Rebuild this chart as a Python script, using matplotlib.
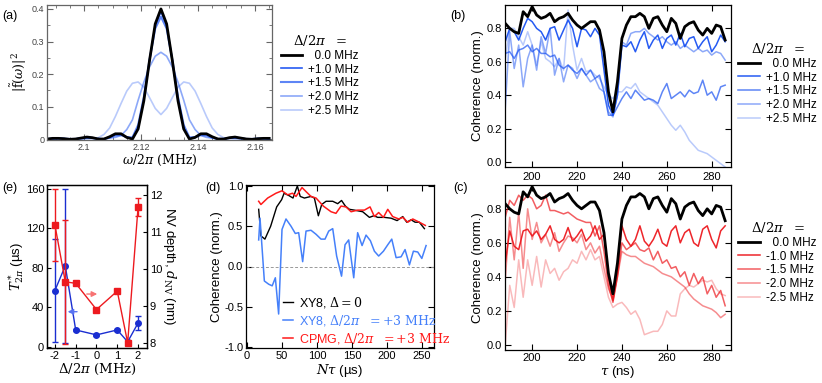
import matplotlib.pyplot as plt
from matplotlib.ticker import MultipleLocator

plt.rcParams['font.family'] = ['Liberation Sans', 'DejaVu Sans']
plt.rcParams['mathtext.fontset'] = 'dejavuserif'
plt.rcParams['axes.unicode_minus'] = False
plt.rcParams['axes.linewidth'] = 0.9
plt.rcParams['xtick.direction'] = 'in'
plt.rcParams['ytick.direction'] = 'in'

# ---------------- data ----------------
# (a) filter functions
w_grid = [2.087, 2.089, 2.091, 2.093, 2.095, 2.097, 2.099, 2.101, 2.103, 2.105,
          2.107, 2.109, 2.111, 2.113, 2.115, 2.117, 2.119, 2.121, 2.123, 2.125,
          2.127, 2.129, 2.131, 2.133, 2.135, 2.137, 2.139, 2.141, 2.143, 2.145,
          2.147, 2.149, 2.151, 2.153, 2.155, 2.157, 2.159, 2.161, 2.163, 2.165]
f_0p0 = [0.001, 0.003, 0.003, 0.002, 0.000, 0.001, 0.004, 0.007, 0.005, 0.001,
         0.001, 0.008, 0.017, 0.017, 0.006, 0.001, 0.032, 0.118, 0.242, 0.354,
         0.400, 0.354, 0.242, 0.118, 0.032, 0.001, 0.006, 0.017, 0.017, 0.008,
         0.001, 0.001, 0.005, 0.007, 0.004, 0.001, 0.000, 0.002, 0.003, 0.003]
f_1p0 = [0.001, 0.003, 0.003, 0.002, 0.000, 0.001, 0.004, 0.006, 0.005, 0.001,
         0.001, 0.007, 0.015, 0.016, 0.006, 0.002, 0.035, 0.122, 0.242, 0.350,
         0.392, 0.350, 0.242, 0.122, 0.035, 0.002, 0.006, 0.016, 0.015, 0.007,
         0.001, 0.001, 0.005, 0.006, 0.004, 0.001, 0.000, 0.002, 0.003, 0.003]
f_1p5 = [0.001, 0.002, 0.003, 0.002, 0.001, 0.001, 0.003, 0.005, 0.004, 0.001,
         0.001, 0.005, 0.012, 0.013, 0.007, 0.006, 0.044, 0.130, 0.244, 0.340,
         0.376, 0.340, 0.244, 0.130, 0.044, 0.006, 0.007, 0.013, 0.012, 0.005,
         0.001, 0.001, 0.004, 0.005, 0.003, 0.001, 0.001, 0.002, 0.002, 0.002]
f_2p0 = [0.001, 0.001, 0.002, 0.002, 0.001, 0.001, 0.002, 0.003, 0.003, 0.002,
         0.002, 0.004, 0.006, 0.012, 0.030, 0.060, 0.120, 0.175, 0.222, 0.255,
         0.267, 0.255, 0.222, 0.175, 0.120, 0.060, 0.030, 0.012, 0.006, 0.004,
         0.002, 0.002, 0.003, 0.003, 0.002, 0.001, 0.001, 0.002, 0.002, 0.001]
f_2p5 = [0.001, 0.001, 0.002, 0.002, 0.002, 0.002, 0.002, 0.002, 0.003, 0.005,
         0.015, 0.035, 0.070, 0.110, 0.148, 0.172, 0.176, 0.160, 0.128, 0.095,
         0.076, 0.095, 0.128, 0.160, 0.176, 0.172, 0.148, 0.110, 0.070, 0.035,
         0.015, 0.005, 0.003, 0.002, 0.002, 0.002, 0.002, 0.002, 0.001, 0.001]

# (b), (c) coherence vs tau
tau = [188, 190, 192, 194, 196, 198, 200, 202, 204, 206,
       208, 210, 212, 214, 216, 218, 220, 222, 224, 226,
       228, 230, 232, 234, 236, 238, 240, 242, 244, 246,
       248, 250, 252, 254, 256, 258, 260, 262, 264, 266,
       268, 270, 272, 274, 276, 278, 280, 282, 284, 286]
c_0p0 = [0.83, 0.80, 0.78, 0.77, 0.90, 0.87, 0.93, 0.88, 0.86, 0.87,
         0.89, 0.84, 0.86, 0.87, 0.89, 0.85, 0.82, 0.80, 0.82, 0.84,
         0.84, 0.79, 0.66, 0.42, 0.30, 0.48, 0.74, 0.82, 0.87, 0.87,
         0.89, 0.87, 0.80, 0.86, 0.87, 0.82, 0.78, 0.86, 0.83, 0.74,
         0.81, 0.83, 0.84, 0.79, 0.76, 0.80, 0.77, 0.82, 0.81, 0.73]
c_p1p0 = [0.72, 0.80, 0.78, 0.73, 0.80, 0.86, 0.84, 0.80, 0.78, 0.73,
          0.80, 0.81, 0.73, 0.79, 0.85, 0.80, 0.69, 0.80, 0.79, 0.75,
          0.80, 0.76, 0.55, 0.34, 0.28, 0.40, 0.70, 0.69, 0.72, 0.66,
          0.73, 0.78, 0.68, 0.73, 0.76, 0.68, 0.74, 0.76, 0.70, 0.77,
          0.69, 0.74, 0.75, 0.68, 0.72, 0.75, 0.66, 0.70, 0.76, 0.72]
c_p1p5 = [0.65, 0.66, 0.62, 0.67, 0.68, 0.70, 0.66, 0.68, 0.65, 0.65,
          0.63, 0.64, 0.58, 0.56, 0.58, 0.55, 0.53, 0.56, 0.52, 0.55,
          0.50, 0.52, 0.42, 0.28, 0.28, 0.33, 0.38, 0.42, 0.38, 0.43,
          0.40, 0.37, 0.38, 0.37, 0.35, 0.42, 0.47, 0.38, 0.40, 0.42,
          0.39, 0.43, 0.41, 0.42, 0.49, 0.40, 0.42, 0.37, 0.45, 0.46]
c_p2p0 = [0.32, 0.78, 0.56, 0.70, 0.45, 0.62, 0.70, 0.55, 0.75, 0.65,
          0.80, 0.52, 0.62, 0.48, 0.58, 0.56, 0.50, 0.56, 0.52, 0.48,
          0.50, 0.44, 0.42, 0.30, 0.27, 0.40, 0.72, 0.70, 0.77, 0.78,
          0.78, 0.80, 0.77, 0.75, 0.73, 0.75, 0.72, 0.70, 0.72, 0.68,
          0.70, 0.68, 0.66, 0.68, 0.66, 0.67, 0.64, 0.66, 0.65, 0.61]
c_p2p5 = [0.62, 0.80, 0.80, 0.75, 0.70, 0.78, 0.70, 0.58, 0.72, 0.62,
          0.60, 0.57, 0.62, 0.55, 0.91, 0.70, 0.55, 0.62, 0.54, 0.55,
          0.52, 0.50, 0.45, 0.40, 0.38, 0.42, 0.42, 0.45, 0.44, 0.47,
          0.42, 0.40, 0.38, 0.36, 0.34, 0.30, 0.26, 0.22, 0.19, 0.22,
          0.18, 0.13, 0.10, 0.07, 0.06, 0.05, 0.03, 0.01, -0.01, -0.03]
c_m1p0 = [0.48, 0.67, 0.58, 0.56, 0.67, 0.68, 0.64, 0.67, 0.62, 0.65,
          0.70, 0.62, 0.60, 0.62, 0.69, 0.61, 0.64, 0.68, 0.61, 0.64,
          0.70, 0.62, 0.65, 0.40, 0.26, 0.42, 0.70, 0.62, 0.58, 0.62,
          0.70, 0.61, 0.58, 0.62, 0.68, 0.60, 0.58, 0.67, 0.70, 0.60,
          0.66, 0.68, 0.60, 0.58, 0.68, 0.70, 0.62, 0.57, 0.67, 0.70]
c_m1p5 = [0.75, 0.85, 0.82, 0.88, 0.85, 0.88, 0.86, 0.80, 0.82, 0.88,
          0.79, 0.79, 0.78, 0.77, 0.78, 0.76, 0.74, 0.73, 0.72, 0.72,
          0.64, 0.70, 0.55, 0.35, 0.25, 0.40, 0.60, 0.56, 0.58, 0.60,
          0.56, 0.55, 0.57, 0.50, 0.55, 0.48, 0.50, 0.45, 0.46, 0.40,
          0.43, 0.35, 0.42, 0.36, 0.40, 0.30, 0.35, 0.28, 0.32, 0.23]
c_m2p0 = [0.38, 0.75, 0.50, 0.78, 0.45, 0.80, 0.62, 0.72, 0.60, 0.65,
          0.58, 0.66, 0.55, 0.60, 0.64, 0.63, 0.60, 0.65, 0.56, 0.60,
          0.54, 0.58, 0.45, 0.33, 0.27, 0.40, 0.55, 0.53, 0.52, 0.52,
          0.50, 0.48, 0.47, 0.46, 0.44, 0.42, 0.41, 0.40, 0.38, 0.36,
          0.34, 0.30, 0.27, 0.25, 0.23, 0.22, 0.21, 0.19, 0.16, 0.18]
c_m2p5 = [0.00, 0.35, 0.22, 0.50, 0.28, 0.50, 0.35, 0.52, 0.34, 0.50,
          0.42, 0.45, 0.38, 0.43, 0.45, 0.50, 0.48, 0.55, 0.50, 0.56,
          0.50, 0.52, 0.40, 0.28, 0.22, 0.24, 0.25, 0.22, 0.18, 0.20,
          0.15, 0.06, 0.07, 0.08, 0.08, 0.12, 0.20, 0.17, 0.17, 0.30,
          0.33, 0.35, 0.34, 0.36, 0.38, 0.37, 0.38, 0.33, 0.30, 0.29]

# (d) coherence vs N*tau
nt_xy8 = [16.7, 19.9, 25.6, 33.8, 42.4, 49.5, 53.0, 60.0, 65.7, 71.9,
          76.0, 82.0, 91.4, 96.2, 101.9, 106.7, 112.9, 122.4, 129.5, 135.0,
          140.5, 146.2, 153.3, 165.2, 174.8, 181.0, 186.7, 196.2, 205.7, 214.3,
          222.4, 228.1, 234.3, 240.0, 246.0, 253.3]
coh_xy8 = [0.71, 0.38, 0.34, 0.50, 0.74, 0.83, 0.91, 0.88, 0.85, 1.00,
           0.87, 0.85, 0.87, 0.85, 0.63, 0.77, 0.81, 0.81, 0.78, 0.82,
           0.75, 0.71, 0.70, 0.68, 0.61, 0.63, 0.61, 0.61, 0.60, 0.57,
           0.62, 0.55, 0.58, 0.55, 0.55, 0.47]
nt_xy8_det = [16.7, 18.6, 24.8, 31.0, 36.0, 40.5, 45.2, 50.0, 55.7, 62.9,
              69.0, 73.8, 79.5, 84.3, 91.4, 98.6, 105.7, 111.4, 116.7, 122.4,
              128.0, 135.0, 140.0, 145.2, 152.4, 158.0, 164.3, 170.0, 176.2, 181.9,
              188.0, 194.8, 201.0, 206.7, 212.9, 220.0, 225.7, 231.9, 237.6, 243.8,
              249.6, 255.7]
coh_xy8_det = [0.33, 0.60, -0.18, -0.22, -0.24, -0.14, -0.59, 0.46, 0.59, 0.50,
               0.41, 0.42, 0.06, 0.44, 0.45, 0.40, 0.34, 0.34, 0.44, 0.47,
               0.13, -0.12, 0.27, 0.33, -0.14, 0.42, 0.26, 0.39, 0.32, 0.19,
               0.13, 0.19, 0.27, 0.34, 0.11, 0.12, 0.21, 0.02, 0.19, 0.18,
               0.10, 0.26]
nt_cpmg = [16.7, 19.9, 29.5, 41.4, 50.0, 58.0, 65.0, 70.0, 78.6, 84.3,
           91.4, 98.6, 109.0, 120.0, 127.0, 134.3, 141.4, 148.6, 158.0, 167.6,
           175.7, 181.9, 188.0, 194.8, 201.0, 208.0, 216.7, 222.4, 229.5, 236.7,
           246.0, 254.6]
coh_cpmg = [0.81, 0.77, 0.85, 0.91, 0.94, 0.89, 0.91, 0.87, 0.98, 0.93,
            0.87, 0.85, 0.75, 0.68, 0.66, 0.75, 0.74, 0.68, 0.70, 0.70,
            0.74, 0.62, 0.67, 0.61, 0.71, 0.62, 0.59, 0.61, 0.55, 0.59,
            0.55, 0.51]

# (e) T2* and NV depth vs detuning
det = [-2, -1.5, -1, 0, 1, 1.5, 2]
t2 = [57, 82, 17, 12, 17, 5, 24]
t2_err = [52, 78, 1, 1, 1, 1, 7]
depth = [11.19, 9.65, 9.61, 8.90, 9.40, 8.00, 11.67]
depth_err = [0.98, 1.67, 0.05, 0.03, 0.03, 0.03, 0.25]

# ---------------- figure ----------------
W, H = 822, 383
fig = plt.figure(figsize=(W / 100, H / 100), dpi=100)


def box(l, t, r, b):
    return fig.add_axes([l / W, 1 - b / H, (r - l) / W, (b - t) / H])


SERIF = 'DejaVu Serif'
BLUE = (0.10, 0.32, 0.95)
RED = (0.93, 0.10, 0.12)
dlab = r'$\Delta/2\pi\ \ =$'

# ---- (a)
ax = box(47, 5, 272, 140)
ax.plot(w_grid, f_2p5, color=BLUE, alpha=0.3, lw=1.2, label='+2.5 MHz')
ax.plot(w_grid, f_2p0, color=BLUE, alpha=0.5, lw=1.2, label='+2.0 MHz')
ax.plot(w_grid, f_1p5, color=BLUE, alpha=0.7, lw=1.5, label='+1.5 MHz')
ax.plot(w_grid, f_1p0, color=BLUE, alpha=0.95, lw=1.2, label='+1.0 MHz')
ax.plot(w_grid, f_0p0, color='black', lw=2.0, label='  0.0 MHz')
ax.set_xlim(2.087, 2.166)
ax.set_ylim(-0.002, 0.412)
ax.set_xticks([2.10, 2.12, 2.14, 2.16])
ax.set_xticklabels(['2.1', '2.12', '2.14', '2.16'])
ax.set_yticks([0, 0.1, 0.2, 0.3, 0.4])
ax.set_yticklabels(['0', '0.1', '0.2', '0.3', '0.4'])
ax.xaxis.set_minor_locator(MultipleLocator(0.005))
ax.yaxis.set_minor_locator(MultipleLocator(0.05))
ax.tick_params(which='both', top=True, right=True, color='#666', labelcolor='#444',
               labelsize=6.5, pad=2)
ax.tick_params(which='major', length=4)
ax.tick_params(which='minor', length=2)
for s in ax.spines.values():
    s.set_color('#666')
ax.set_xlabel(r'$\omega/2\pi$ (MHz)', family=SERIF, fontsize=9, labelpad=1)
ax.set_ylabel(r'$|\tilde{\mathrm{f}}(\omega)|^2$', fontsize=9, labelpad=2)
h, l = ax.get_legend_handles_labels()
leg = ax.legend(h[::-1], l[::-1], title=dlab, loc='upper left',
                bbox_to_anchor=(281 / W, 1 - 33 / H), bbox_transform=fig.transFigure,
                frameon=False, fontsize=8.5, title_fontsize=9.5, handlelength=1.8,
                handletextpad=0.5, labelspacing=0.15, borderpad=0, borderaxespad=0)


def coherence_axes(axc):
    axc.set_xlim(187.9, 288.6)
    axc.set_ylim(-0.03, 0.94)
    axc.set_xticks([200, 220, 240, 260, 280])
    axc.set_yticks([0.0, 0.2, 0.4, 0.6, 0.8])
    axc.set_yticklabels(['0.0', '0.2', '0.4', '0.6', '0.8'])
    axc.tick_params(top=True, right=True, length=4, labelsize=8, pad=2)
    axc.set_ylabel('Coherence (norm.)', fontsize=9.5, labelpad=2)


# ---- (b)
ax = box(505, 5, 731, 167)
ax.plot(tau, c_p2p5, color=BLUE, alpha=0.3, lw=1.1, label='+2.5 MHz')
ax.plot(tau, c_p2p0, color=BLUE, alpha=0.5, lw=1.1, label='+2.0 MHz')
ax.plot(tau, c_p1p5, color=BLUE, alpha=0.7, lw=1.1, label='+1.5 MHz')
ax.plot(tau, c_p1p0, color=BLUE, alpha=0.95, lw=1.1, label='+1.0 MHz')
ax.plot(tau, c_0p0, color='black', lw=2.0, label='  0.0 MHz')
coherence_axes(ax)
ax.tick_params(labelbottom=False)
h, l = ax.get_legend_handles_labels()
ax.legend(h[::-1], l[::-1], title=dlab, loc='upper left',
          bbox_to_anchor=(738 / W, 1 - 41 / H), bbox_transform=fig.transFigure,
          frameon=False, fontsize=8.5, title_fontsize=9.5, handlelength=1.9,
          handletextpad=0.5, labelspacing=0.15, borderpad=0, borderaxespad=0)

# ---- (c)
ax = box(505, 185, 731, 350)
ax.plot(tau, c_m2p5, color=RED, alpha=0.3, lw=1.1, label='-2.5 MHz')
ax.plot(tau, c_m2p0, color=RED, alpha=0.5, lw=1.1, label='-2.0 MHz')
ax.plot(tau, c_m1p5, color=RED, alpha=0.7, lw=1.1, label='-1.5 MHz')
ax.plot(tau, c_m1p0, color=RED, alpha=0.95, lw=1.1, label='-1.0 MHz')
ax.plot(tau, c_0p0, color='black', lw=2.0, label='  0.0 MHz')
coherence_axes(ax)
ax.tick_params(labeltop=True)
ax.set_xlabel(r'$\tau$ (ns)', fontsize=9.5, labelpad=1)
h, l = ax.get_legend_handles_labels()
ax.legend(h[::-1], l[::-1], title=dlab, loc='upper left',
          bbox_to_anchor=(738 / W, 1 - 220 / H), bbox_transform=fig.transFigure,
          frameon=False, fontsize=8.5, title_fontsize=9.5, handlelength=1.9,
          handletextpad=0.5, labelspacing=0.15, borderpad=0, borderaxespad=0)

# ---- (d)
ax = box(246, 185, 434, 348)
ax.axhline(0, color='#999999', lw=0.7, ls=(0, (3, 2)))
ax.plot(nt_xy8, coh_xy8, color='black', lw=1.0, label=r'XY8, $\Delta = 0$')
ax.plot(nt_xy8_det, coh_xy8_det, color=(0.27, 0.50, 0.98), lw=1.1,
        label=r'XY8, $\Delta/2\pi\ \ = +3\ \mathrm{MHz}$')
ax.plot(nt_cpmg, coh_cpmg, color=(1.0, 0.1, 0.1), lw=1.1,
        label=r'CPMG, $\Delta/2\pi\ \ = +3\ \mathrm{MHz}$')
ax.set_xlim(-1.4, 267)
ax.set_ylim(-1.012, 1.012)
ax.set_xticks([0, 50, 100, 150, 200, 250])
ax.set_yticks([-1.0, -0.5, 0.0, 0.5, 1.0])
ax.set_yticklabels(['-1.0', '-0.5', '0.0', '0.5', '1.0'])
ax.tick_params(top=True, right=True, length=4, labelsize=8, pad=2)
ax.set_xlabel(r'$N\tau$ (µs)', fontsize=9.5, labelpad=1)
ax.set_ylabel('Coherence (norm.)', fontsize=9.5, labelpad=1)
leg = ax.legend(loc='upper left', bbox_to_anchor=(283 / W, 1 - 295 / H),
                bbox_transform=fig.transFigure, frameon=False, fontsize=9,
                handlelength=0.8, handletextpad=0.5, labelspacing=0.25,
                borderpad=0, borderaxespad=0)
for t, ln in zip(leg.get_texts(), leg.get_lines()):
    t.set_color(ln.get_color())

# ---- (e)
ax = box(47, 185, 147, 348)
ax2 = ax.twinx()
eb_blue = (0.10, 0.18, 0.82)
ax.errorbar(det, t2, yerr=t2_err, color=eb_blue, marker='o', ms=4, lw=1.0,
            capsize=2.5, elinewidth=1.0)
ax2.errorbar(det, depth, yerr=depth_err, color=RED, marker='s', ms=4.5, lw=1.0,
             capsize=2.5, elinewidth=1.0)
ax.set_xlim(-2.38, 2.43)
ax.set_ylim(-1.3, 164)
ax2.set_ylim(7.86, 12.27)
ax.set_xticks([-2, -1, 0, 1, 2])
ax.set_yticks([0, 40, 80, 120, 160])
ax2.set_yticks([8, 9, 10, 11, 12])
ax.tick_params(length=3, labelsize=8, pad=2)
ax2.tick_params(length=3, labelsize=8, pad=2)
ax.set_xlabel(r'$\Delta/2\pi$ (MHz)', family=SERIF, fontsize=9.5, labelpad=1)
ax.set_ylabel(r'$T^*_{2\pi}$ (µs)', fontsize=9.5, labelpad=0)
ax2.set_ylabel(r'NV depth, $d_{\mathrm{NV}}$ (nm)', fontsize=9.5, rotation=270,
               labelpad=11)
ax2.annotate('', xy=(0.17, 9.32), xytext=(-0.6, 9.32),
             arrowprops=dict(arrowstyle='-|>', color=(0.97, 0.45, 0.45), lw=1.0,
                             mutation_scale=8))
ax.annotate('', xy=(-1.52, 35.5), xytext=(-0.8, 35.5),
            arrowprops=dict(arrowstyle='-|>', color=(0.35, 0.45, 0.95), lw=1.0,
                            mutation_scale=8))

# panel letters
for txt, x, y in [('(a)', 2, 16), ('(b)', 450, 16), ('(e)', 2, 188),
                  ('(d)', 205, 188), ('(c)', 453, 188)]:
    fig.text(x / W, 1 - y / H, txt, fontsize=9, va='center', ha='left')

fig.savefig('out.png', dpi=100)
